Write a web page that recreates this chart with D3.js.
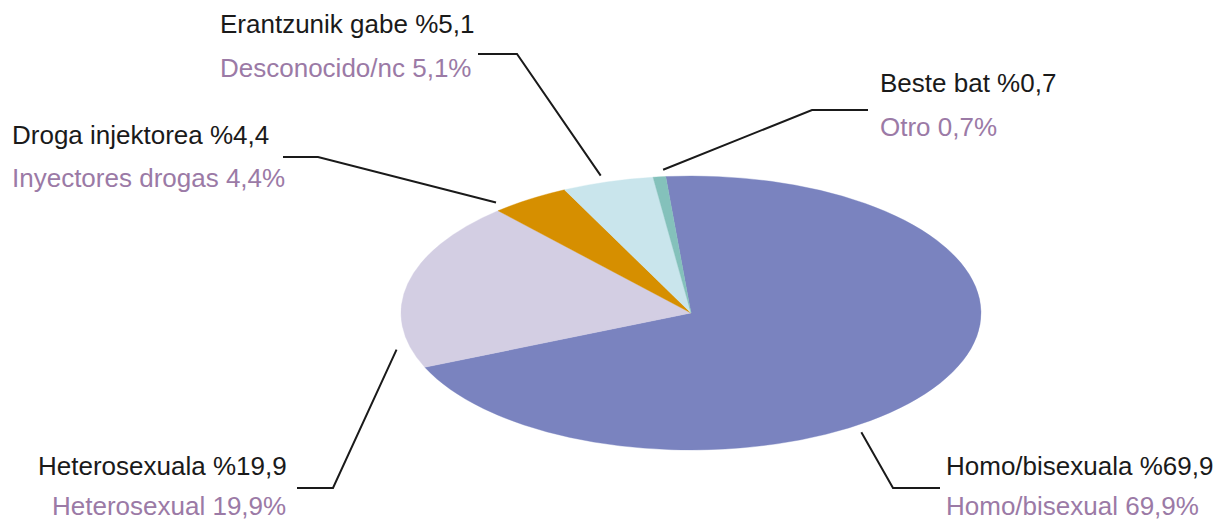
<!DOCTYPE html>
<meta charset="utf-8">
<style>
body { margin: 0; background: #fff; }
text { font: 26px "Liberation Sans", Arial, sans-serif; }
.eu { fill: #1a1a1a; }
.es { fill: #9b7aa6; }
.leader { fill: none; stroke: #1a1a1a; stroke-width: 2; }
</style>
<svg width="1221" height="522"></svg>
<script src="https://d3js.org/d3.v7.min.js"></script>
<script>

// data, clockwise from the top
var categories = ["Homo/bisexual", "Heterosexual", "Droga", "Desconocido", "Otro"],
    values = [69.9, 19.9, 4.4, 5.1, 0.7],
    labelsEu = ["Homo/bisexuala %69,9", "Heterosexuala %19,9", "Droga injektorea %4,4", "Erantzunik gabe %5,1", "Beste bat %0,7"],
    labelsEs = ["Homo/bisexual 69,9%", "Heterosexual 19,9%", "Inyectores drogas 4,4%", "Desconocido/nc 5,1%", "Otro 0,7%"],
    colors = ["#7a83bf", "#d3cee3", "#d68f00", "#c9e5ec", "#84c1bb"];

// label layout: text x, first baseline, gap to second line, elbow, end of the leader, where along the slice it points
var layout = [
  { x: 946, y: 475, dy: 40, ex: 893, ey: 488, hx: 940, f: 0.6 },
  { x: 38,  y: 475, dy: 40, x2: 52, ex: 333, ey: 488, hx: 297, f: 0.12 },
  { x: 12,  y: 144, dy: 43, ex: 318, ey: 157, hx: 283, f: 0.12 },
  { x: 220, y: 33,  dy: 44, ex: 517, ey: 54,  hx: 478, f: 0.47 },
  { x: 880, y: 92,  dy: 44, ex: 812, ey: 110, hx: 868, f: 0.9 }
];

var svg = d3.select("svg"),
    cx = 691, cy = 313,
    rx = 290, ry = 137,
    rot = -5 * Math.PI / 180;

var pie = d3.pie().sort(null).startAngle(rot).endAngle(rot + 2 * Math.PI),
    arc = d3.arc().innerRadius(0).outerRadius(rx),
    arcs = pie(values);

var g = svg.append("g")
    .attr("transform", "translate(" + cx + "," + cy + ") scale(1," + (ry / rx) + ")");

g.selectAll("path")
  .data(arcs)
  .enter().append("path")
    .attr("d", arc)
    .attr("fill", function(d, i) { return colors[i]; })
    .attr("stroke", function(d, i) { return colors[i]; })
    .attr("stroke-width", 0.5);

// point on the tilted rim
function rim(a, k) {
  return [cx + rx * k * Math.sin(a), cy - ry * k * Math.cos(a)];
}

arcs.forEach(function(d, i) {
  var l = layout[i],
      a = d.startAngle + (d.endAngle - d.startAngle) * l.f,
      p = rim(a, 1.05);

  svg.append("path")
    .attr("class", "leader")
    .attr("d", d3.line()([[l.hx, l.ey], [l.ex, l.ey], p]));

  svg.append("text")
    .attr("class", "eu")
    .attr("x", l.x)
    .attr("y", l.y)
    .text(labelsEu[i]);

  svg.append("text")
    .attr("class", "es")
    .attr("x", l.x2 || l.x)
    .attr("y", l.y + l.dy)
    .text(labelsEs[i]);
});

</script>
